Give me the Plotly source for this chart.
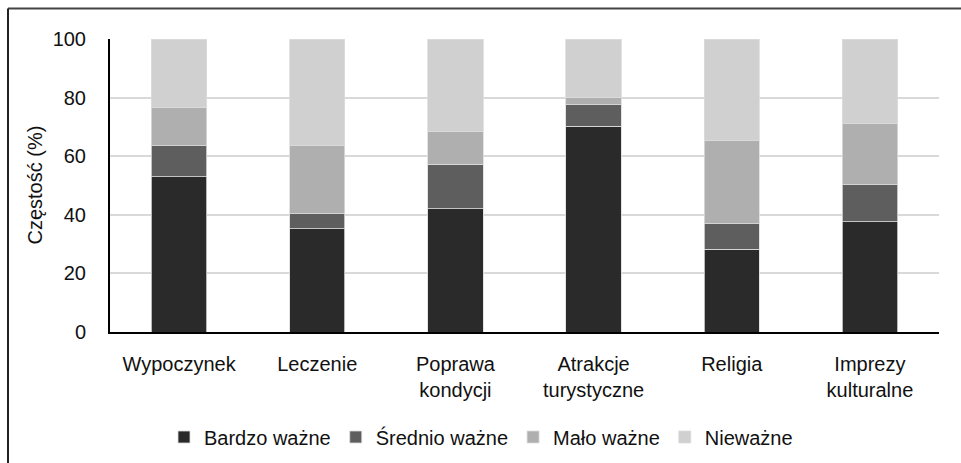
import plotly.graph_objects as go

categories = ["Wypoczynek", "Leczenie", "Poprawa<br>kondycji", "Atrakcje<br>turystyczne", "Religia", "Imprezy<br>kulturalne"]
bardzo_wazne = [53.0, 35.2, 42.0, 70.3, 28.2, 37.6]
srednio_wazne = [10.5, 5.2, 15.2, 7.2, 8.8, 12.7]
malo_wazne = [13.2, 23.1, 11.4, 2.7, 28.3, 21.0]
niewazne = [23.3, 36.5, 31.4, 19.8, 34.7, 28.7]
series_names = ["Bardzo ważne", "Średnio ważne", "Mało ważne", "Nieważne"]
series_values = [bardzo_wazne, srednio_wazne, malo_wazne, niewazne]
colors = ["#2a2a2a", "#5e5e5e", "#afafaf", "#d0d0d0"]
y_ticks = [0, 20, 40, 60, 80, 100]

FONT = "Liberation Sans, Arial, sans-serif"
FS = 20
W, H = 961, 463
L, R, T, B = 110, 22, 39, 131
pw, ph = W - L - R, H - T - B

fig = go.Figure()
for name, vals, col in zip(series_names, series_values, colors):
    fig.add_trace(go.Bar(
        x=categories, y=vals, name=name,
        marker=dict(color=col, line=dict(color="#dcdcdc", width=0.8)),
    ))

def px_x(px):
    return (px - L) / pw

def px_y(py):
    return (H - B - py) / ph

fig.update_layout(
    width=W, height=H,
    margin=dict(l=L, r=R, t=T, b=B, autoexpand=False),
    barmode="stack", bargap=0.6,
    plot_bgcolor="white", paper_bgcolor="white",
    font=dict(family=FONT, size=FS, color="#111111"),
    showlegend=True,
    legend=dict(
        orientation="h", x=481 / W, xanchor="center", xref="container",
        y=(H - 437) / H, yanchor="middle", yref="container",
        traceorder="normal", font=dict(size=FS),
        itemclick=False,
    ),
    xaxis=dict(
        showline=True, linecolor="black", linewidth=2,
        ticks="outside", ticklen=13, tickcolor="rgba(0,0,0,0)",
        showgrid=False, fixedrange=True,
    ),
    yaxis=dict(
        range=[0, 100], tickvals=y_ticks,
        showline=True, linecolor="black", linewidth=2,
        ticks="outside", ticklen=18, tickcolor="rgba(0,0,0,0)",
        showgrid=True, gridcolor="#d9d9d9", gridwidth=1.5,
        zeroline=False, fixedrange=True,
    ),
    annotations=[dict(
        text="Częstość (%)", textangle=-90,
        xref="paper", yref="paper", x=px_x(34), y=0.5,
        xanchor="center", yanchor="middle", showarrow=False,
        font=dict(size=FS, family=FONT, color="#111111"),
    )],
    shapes=[
        dict(type="line", xref="paper", yref="paper",
             x0=px_x(8), x1=px_x(1000), y0=px_y(8.5), y1=px_y(8.5),
             line=dict(color="#444444", width=2)),
        dict(type="line", xref="paper", yref="paper",
             x0=px_x(8), x1=px_x(8), y0=px_y(8.5), y1=px_y(500),
             line=dict(color="#222222", width=2)),
    ],
)

fig.write_html(
    "out.html",
    config={"displayModeBar": False},
    post_script="document.body.style.margin='0';document.body.style.padding='0';document.body.style.overflow='hidden';",
)
